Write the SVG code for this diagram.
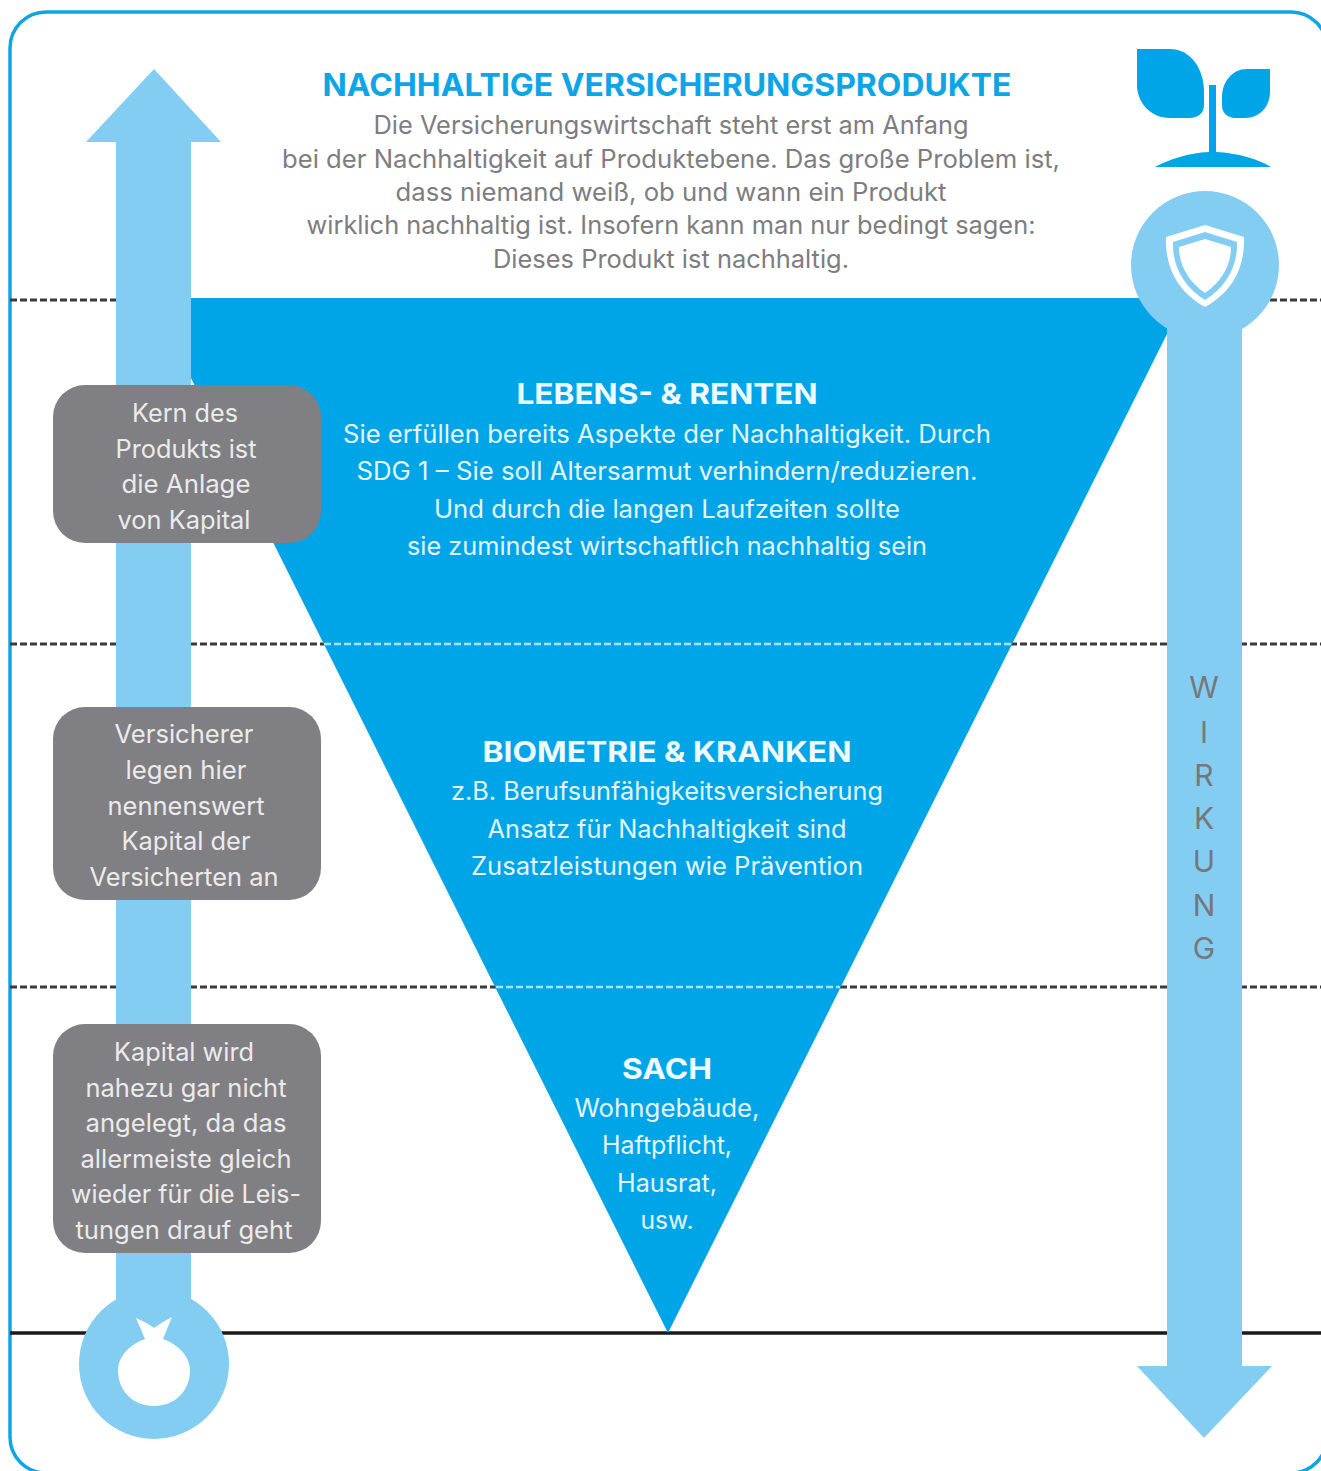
<svg xmlns="http://www.w3.org/2000/svg" width="1321" height="1471" viewBox="0 0 1321 1471">
<style>
text{font-family:Inter,"Open Sans","Noto Sans",sans-serif;text-anchor:middle}
.i{font-size:25px;fill:#7d7d80}
.t{font-size:25px;fill:#e4f5fd}
.h{font-size:29px;font-weight:700;fill:#f0faff}
.b{font-size:25px;fill:#ebebeb}
.w{font-size:30px;fill:#77777a}
.d{stroke:#3a3a3a;stroke-width:3;stroke-dasharray:7 3;fill:none}
.dw{stroke:#a8e3f8;stroke-width:2.5;stroke-dasharray:7 3;fill:none}
.a{fill:#83cdf3}
.g{fill:#807f83}
.p{fill:#00a5e8}
</style>
<rect width="1321" height="1471" fill="#fff"/>
<rect x="10" y="12" width="1317" height="1461" rx="36" fill="none" stroke="#0ea5e6" stroke-width="3.5"/>
<g id="connectors">
<path class="d" d="M10 300H1321M10 644H1321M10 987H1321"/>
<path d="M10 1333H1321" stroke="#1a1a1a" stroke-width="3.5"/>
</g>
<g id="pyramid">
<path class="p" d="M151 298H1185L668 1333Z"/>
<path class="dw" d="M324 644H1012M496 987H840"/>
<text class="h" x="667" y="404" textLength="301" lengthAdjust="spacingAndGlyphs">LEBENS- &amp; RENTEN</text>
<text class="t" x="667" y="443" textLength="648" lengthAdjust="spacingAndGlyphs">Sie erfüllen bereits Aspekte der Nachhaltigkeit. Durch</text>
<text class="t" x="667" y="480" textLength="621" lengthAdjust="spacingAndGlyphs">SDG 1 – Sie soll Altersarmut verhindern/reduzieren.</text>
<text class="t" x="667" y="518" textLength="466" lengthAdjust="spacingAndGlyphs">Und durch die langen Laufzeiten sollte</text>
<text class="t" x="667" y="555" textLength="520" lengthAdjust="spacingAndGlyphs">sie zumindest wirtschaftlich nachhaltig sein</text>
<text class="h" x="667" y="762" textLength="369" lengthAdjust="spacingAndGlyphs">BIOMETRIE &amp; KRANKEN</text>
<text class="t" x="667" y="800" textLength="432" lengthAdjust="spacingAndGlyphs">z.B. Berufsunfähigkeitsversicherung</text>
<text class="t" x="667" y="838" textLength="359" lengthAdjust="spacingAndGlyphs">Ansatz für Nachhaltigkeit sind</text>
<text class="t" x="667" y="875" textLength="392" lengthAdjust="spacingAndGlyphs">Zusatzleistungen wie Prävention</text>
<text class="h" x="667" y="1079" textLength="90" lengthAdjust="spacingAndGlyphs">SACH</text>
<text class="t" x="667" y="1117" textLength="185" lengthAdjust="spacingAndGlyphs">Wohngebäude,</text>
<text class="t" x="667" y="1154" textLength="130" lengthAdjust="spacingAndGlyphs">Haftpflicht,</text>
<text class="t" x="667" y="1192" textLength="100" lengthAdjust="spacingAndGlyphs">Hausrat,</text>
<text class="t" x="667" y="1229" textLength="53" lengthAdjust="spacingAndGlyphs">usw.</text>
</g>
<g id="title">
<text x="667" y="96" font-size="31" font-weight="700" fill="#0ea5e6" textLength="689" lengthAdjust="spacingAndGlyphs">NACHHALTIGE VERSICHERUNGSPRODUKTE</text>
<text class="i" x="671" y="134" textLength="595" lengthAdjust="spacingAndGlyphs">Die Versicherungswirtschaft steht erst am Anfang</text>
<text class="i" x="671" y="168" textLength="778" lengthAdjust="spacingAndGlyphs">bei der Nachhaltigkeit auf Produktebene. Das große Problem ist,</text>
<text class="i" x="671" y="201" textLength="551" lengthAdjust="spacingAndGlyphs">dass niemand weiß, ob und wann ein Produkt</text>
<text class="i" x="671" y="234" textLength="729" lengthAdjust="spacingAndGlyphs">wirklich nachhaltig ist. Insofern kann man nur bedingt sagen:</text>
<text class="i" x="671" y="268" textLength="356" lengthAdjust="spacingAndGlyphs">Dieses Produkt ist nachhaltig.</text>
</g>
<g id="arrow-left">
<path class="a" d="M154 69L221 142H191V1300H116V142H86Z"/>
<circle class="a" cx="154" cy="1364" r="75"/>
<path fill="#fff" d="M136 1318Q146 1322 154 1328Q162 1322 172 1317L163 1339C180 1345 190 1358 190 1370C190 1392 174 1406 154 1406C134 1406 118 1392 118 1370C118 1358 128 1345 145 1339Z"/>
</g>
<g id="arrow-right">
<path class="a" d="M1167 300H1242V1366H1272L1204 1438L1137 1366H1167Z"/>
<circle class="a" cx="1205" cy="265" r="74"/>
<path fill="#fff" d="M1205 225L1244 237C1245 268 1232 292 1205 307C1178 292 1165 268 1166 237Z"/>
<path class="a" d="M1205 232L1237 242C1238 266 1226 287 1205 300C1184 287 1172 266 1173 242Z"/>
<path fill="#fff" d="M1205 239L1231 247C1231 266 1221 282 1205 293C1189 282 1179 266 1179 247Z"/>
<text class="w" x="1204" y="698">W</text>
<text class="w" x="1204" y="743">I</text>
<text class="w" x="1204" y="786">R</text>
<text class="w" x="1204" y="829">K</text>
<text class="w" x="1204" y="872">U</text>
<text class="w" x="1204" y="916">N</text>
<text class="w" x="1204" y="959">G</text>
</g>
<g id="plant" class="p">
<path d="M1137 49H1170C1190 49 1204 68 1204 92V105C1204 113 1198 118 1190 118H1170C1150 118 1137 102 1137 85Z"/>
<path d="M1270 69H1247C1232 69 1222 82 1222 97V106C1222 113 1228 118 1235 118H1245C1260 118 1270 106 1270 92Z"/>
<path d="M1209 85H1216V152C1238 153 1258 159 1271 167H1155C1170 159 1188 153 1209 152Z"/>
</g>
<g id="note-1">
<rect class="g" x="53" y="385" width="268" height="158" rx="32"/>
<text class="b" x="185" y="422" textLength="106" lengthAdjust="spacingAndGlyphs">Kern des</text>
<text class="b" x="186" y="458" textLength="141" lengthAdjust="spacingAndGlyphs">Produkts ist</text>
<text class="b" x="186" y="493" textLength="129" lengthAdjust="spacingAndGlyphs">die Anlage</text>
<text class="b" x="184" y="529" textLength="133" lengthAdjust="spacingAndGlyphs">von Kapital</text>
</g>
<g id="note-2">
<rect class="g" x="53" y="707" width="268" height="193" rx="32"/>
<text class="b" x="184" y="743" textLength="139" lengthAdjust="spacingAndGlyphs">Versicherer</text>
<text class="b" x="186" y="779" textLength="121" lengthAdjust="spacingAndGlyphs">legen hier</text>
<text class="b" x="186" y="815" textLength="157" lengthAdjust="spacingAndGlyphs">nennenswert</text>
<text class="b" x="186" y="850" textLength="129" lengthAdjust="spacingAndGlyphs">Kapital der</text>
<text class="b" x="184" y="886" textLength="189" lengthAdjust="spacingAndGlyphs">Versicherten an</text>
</g>
<g id="note-3">
<rect class="g" x="53" y="1024" width="268" height="229" rx="32"/>
<text class="b" x="184" y="1061" textLength="140" lengthAdjust="spacingAndGlyphs">Kapital wird</text>
<text class="b" x="186" y="1097" textLength="201" lengthAdjust="spacingAndGlyphs">nahezu gar nicht</text>
<text class="b" x="186" y="1132" textLength="201" lengthAdjust="spacingAndGlyphs">angelegt, da das</text>
<text class="b" x="186" y="1168" textLength="211" lengthAdjust="spacingAndGlyphs">allermeiste gleich</text>
<text class="b" x="186" y="1203" textLength="230" lengthAdjust="spacingAndGlyphs">wieder für die Leis-</text>
<text class="b" x="184" y="1239" textLength="217" lengthAdjust="spacingAndGlyphs">tungen drauf geht</text>
</g>
</svg>
